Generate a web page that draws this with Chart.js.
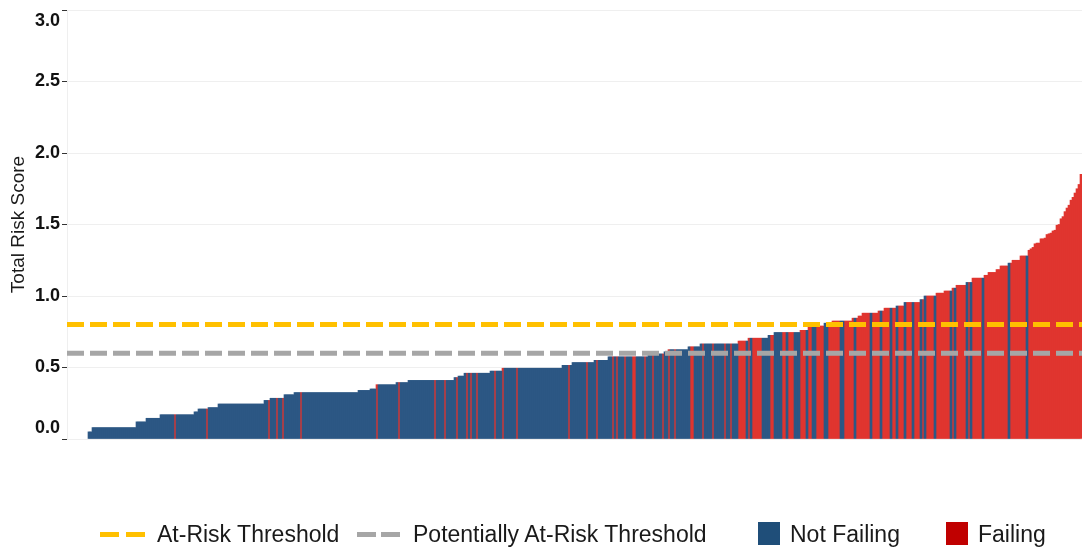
<!DOCTYPE html>
<html>
<head>
<meta charset="utf-8">
<script src="https://cdn.jsdelivr.net/npm/chart.js@4.4.1/dist/chart.umd.min.js"></script>
<style>
html,body{margin:0;padding:0;background:#fff;}
#wrap{position:relative;width:1082px;height:548px;overflow:hidden;}
#chartBox{position:absolute;left:0;top:0;width:1082px;height:548px;}
.lg{position:absolute;top:520px;font-family:'Liberation Sans',Arial,sans-serif;font-size:23px;line-height:28px;color:#1a1a1a;white-space:nowrap;}
.dash{position:absolute;top:532px;width:19px;height:5px;}
.sq{position:absolute;top:522px;width:22px;height:23px;}
</style>
</head>
<body>
<div id="wrap">
  <div id="chartBox"><canvas id="c"></canvas></div>
  <div class="dash" style="left:100px;background:#FFC000"></div>
  <div class="dash" style="left:126px;background:#FFC000"></div>
  <div class="lg" style="left:157px">At-Risk Threshold</div>
  <div class="dash" style="left:357px;background:#A6A6A6"></div>
  <div class="dash" style="left:381px;background:#A6A6A6"></div>
  <div class="lg" style="left:413px">Potentially At-Risk Threshold</div>
  <div class="sq" style="left:758px;background:#1F4E79"></div>
  <div class="lg" style="left:790px">Not Failing</div>
  <div class="sq" style="left:946px;background:#C00000"></div>
  <div class="lg" style="left:978px">Failing</div>
</div>
<script>
// Total risk score of each student, sorted ascending
const scores = [
  0.05,0.05,
  0.08,0.08,0.08,0.08,0.08, 0.08,0.08,0.08,0.08,0.08, 0.08,0.08,0.08,0.08,0.08, 0.08,0.08,0.08,0.08,0.08, 0.08,0.08,
  0.12,0.12,0.12,0.12,0.12,
  0.145,0.145,0.145,0.145,0.145, 0.145,0.145,
  0.17,0.17,0.17,0.17,0.17, 0.17,0.17,0.17,0.17,0.17, 0.17,0.17,0.17,0.17,0.17, 0.17,0.17,
  0.19,0.19,
  0.21,0.21,0.21,0.21,0.21,
  0.22,0.22,0.22,0.22,0.22,
  0.245,0.245,0.245,0.245,0.245, 0.245,0.245,0.245,0.245,0.245, 0.245,0.245,0.245,0.245,0.245, 0.245,0.245,0.245,0.245,0.245, 0.245,0.245,0.245,
  0.27,0.27,0.27,
  0.285,0.285,0.285,0.285,0.285, 0.285,0.285,
  0.31,0.31,0.31,0.31,0.31,
  0.325,0.325,0.325,0.325,0.325, 0.325,0.325,0.325,0.325,0.325, 0.325,0.325,0.325,0.325,0.325, 0.325,0.325,0.325,0.325,0.325,
  0.325,0.325,0.325,0.325,0.325, 0.325,0.325,0.325,0.325,0.325, 0.325,0.325,
  0.34,0.34,0.34,0.34,0.34, 0.34,
  0.35,0.35,0.35,
  0.38,0.38,0.38,0.38,0.38, 0.38,0.38,0.38,0.38,0.38,
  0.395,0.395,0.395,0.395,0.395, 0.395,
  0.41,0.41,0.41,0.41,0.41, 0.41,0.41,0.41,0.41,0.41, 0.41,0.41,0.41,0.41,0.41, 0.41,0.41,0.41,0.41,0.41, 0.41,0.41,0.41,
  0.43,0.43,
  0.44,0.44,0.44,
  0.46,0.46,0.46,0.46,0.46, 0.46,0.46,0.46,0.46,0.46, 0.46,0.46,0.46,
  0.475,0.475,0.475,0.475,0.475, 0.475,
  0.495,0.495,0.495,0.495,0.495, 0.495,0.495,0.495,0.495,0.495, 0.495,0.495,0.495,0.495,0.495,
  0.495,0.495,0.495,0.495,0.495, 0.495,0.495,0.495,0.495,0.495, 0.495,0.495,0.495,0.495,0.495,
  0.515,0.515,0.515,0.515,0.515,
  0.535,0.535,0.535,0.535,0.535, 0.535,0.535,0.535,0.535,0.535, 0.535,
  0.55,0.55,0.55,0.55,0.55, 0.55,0.55,
  0.575,0.575,0.575,0.575,0.575, 0.575,0.575,0.575,0.575,0.575, 0.575,0.575,0.575,0.575,0.575, 0.575,0.575,0.575,0.575,0.575,
  0.595,0.595,0.595,0.595,0.595, 0.595,0.595,0.595,
  0.61,0.61,
  0.625,0.625,0.625,0.625,0.625, 0.625,0.625,0.625,0.625,0.625,
  0.645,0.645,0.645,0.645,0.645, 0.645,
  0.665,0.665,0.665,0.665,0.665, 0.665,0.665,0.665,0.665,0.665, 0.665,0.665,0.665,0.665,0.665, 0.665,0.665,0.665,0.665,
  0.685,0.685,0.685,0.685,0.685,
  0.705,0.705,0.705,0.705,0.705, 0.705,0.705,0.705,0.705,0.705,
  0.725,0.725,0.725,
  0.745,0.745,0.745,0.745,0.745, 0.745,0.745,0.745,0.745,0.745, 0.745,0.745,0.745,
  0.76,0.76,0.76,0.76,
  0.79,0.79,0.79,0.79,0.79, 0.79,0.79,0.79,
  0.81,0.81,0.81,0.81,
  0.825,0.825,0.825,0.825,0.825, 0.825,0.825,0.825,0.825,0.825,
  0.845,0.845,0.845,
  0.86,0.86,
  0.88,0.88,0.88,0.88,0.88, 0.88,0.88,0.88,
  0.895,0.895,0.895,
  0.915,0.915,0.915,0.915,0.915, 0.915,
  0.93,0.93,0.93,0.93,
  0.955,0.955,0.955,0.955,0.955, 0.955,0.955,0.955,
  0.975,0.975,
  1.0,1.0,1.0,1.0,1.0, 1.0,
  1.02,1.02,1.02,1.02,
  1.035,1.035,1.035,1.035,
  1.055,1.055,
  1.075,1.075,1.075,1.075,1.075,
  1.095,1.095,1.095,
  1.125,1.125,1.125,1.125,1.125, 1.125,
  1.145,1.145,
  1.165,1.165,1.165,1.165,
  1.185,1.185,
  1.21,1.21,1.21,1.21,
  1.23,1.23,
  1.25,1.25,1.25,1.25,
  1.28,1.28,1.28,1.28,
  1.32,1.33,1.34,1.365,1.37, 1.37,1.40,1.40,1.405,1.43, 1.435,1.44,1.455,1.46,1.495,
  1.50,1.54,1.555,1.59,1.615, 1.635,1.67,1.69,1.72,1.75, 1.78,1.85
];

// Positions (0-based, in sorted order) of the students who are failing
const failingIdx = [
  43,59,90,94,97,106,144,155,173,178,184,189,191,194,203,207,214,240,249,254,
  262,264,268,272,273,278,282,
  287,290,293,301,302,307,312,318,321,325,326,327,328,330,332,333,334,335,336,
  341,342,347,348,350,351,352,
  356,357,358,360,361,364,365,366,367,370,371,372,373,374,375,378,379,380,381,382,
  384,385,386,387,388,389,390,392,393,394,395,397,398,399,400,402,403,405,406,407,
  409,410,411,413,414,415,417,419,420,421,422,424,425,426,427,428,429,430,432,434,
  435,436,437,438,440,442,443,444,445,446,448,449,450,451,452,453,454,455,456,457,
  458,459,461,462,463,464,465,466,467,468,470,471,472,473,474,475,476,477,478,479,
  480,481,482,483,484,485,486,487,488,489,490,491,492,493,494,495,496
];

const atRiskThreshold = 0.8;
const potentialThreshold = 0.6;
const yTicks = [0, 0.5, 1.0, 1.5, 2.0, 2.5, 3.0];

const N = scores.length;
const ranks = scores.map((_, i) => i + 1);
const failSet = new Set(failingIdx);
const notFailingData = scores.map((v, i) => failSet.has(i) ? null : v);
const failingData = scores.map((v, i) => failSet.has(i) ? v : null);
const xMin = 0.5 - 21 * N / 994, xMax = N + 0.5;
const FONT = "'Liberation Sans', Arial, sans-serif";

new Chart(document.getElementById('c'), {
  type: 'bar',
  data: {
    labels: ranks,
    datasets: [
      { type: 'line', label: 'At-Risk Threshold',
        data: [{x: xMin, y: atRiskThreshold}, {x: xMax, y: atRiskThreshold}],
        borderColor: '#FFC000', borderWidth: 5, borderDash: [17, 6], borderCapStyle: 'butt',
        pointRadius: 0, fill: false, order: 0 },
      { type: 'line', label: 'Potentially At-Risk Threshold',
        data: [{x: xMin, y: potentialThreshold}, {x: xMax, y: potentialThreshold}],
        borderColor: '#A6A6A6', borderWidth: 5, borderDash: [17, 6], borderCapStyle: 'butt',
        pointRadius: 0, fill: false, order: 0 },
      { label: 'Not Failing', data: notFailingData, backgroundColor: '#2C5784',
        grouped: false, barPercentage: 1, categoryPercentage: 1, order: 1 },
      { label: 'Failing', data: failingData, backgroundColor: '#E0352F',
        grouped: false, barPercentage: 1, categoryPercentage: 1, order: 1 }
    ]
  },
  options: {
    responsive: true,
    maintainAspectRatio: false,
    animation: false,
    layout: { padding: { top: 10, right: 0, bottom: 109, left: 0 } },
    plugins: { legend: { display: false }, tooltip: { enabled: false } },
    scales: {
      x: { type: 'linear', min: xMin, max: xMax, display: false, offset: false, grid: { offset: false } },
      y: {
        min: 0, max: 3,
        afterBuildTicks: (s) => { s.ticks = yTicks.map(v => ({ value: v })); },
        ticks: {
          callback: (v) => {
            const t = Number(v).toFixed(1);
            if (v === 3) return ['', t];
            if (v === 0) return [t, ''];
            return t;
          },
          font: { family: FONT, size: 18, weight: 'bold' }, color: '#111', padding: 2
        },
        grid: { color: '#EFEFEF', tickColor: '#333', tickLength: 5, lineWidth: 1 },
        border: { color: '#EFEFEF' },
        title: { display: true, text: 'Total Risk Score', font: { family: FONT, size: 19 },
                 color: '#1a1a1a', padding: { top: 7, bottom: 0 } },
        afterFit: (s) => { s.width = 67; s.paddingTop = 10; s.paddingBottom = 0; }
      }
    }
  }
});
</script>
</body>
</html>
